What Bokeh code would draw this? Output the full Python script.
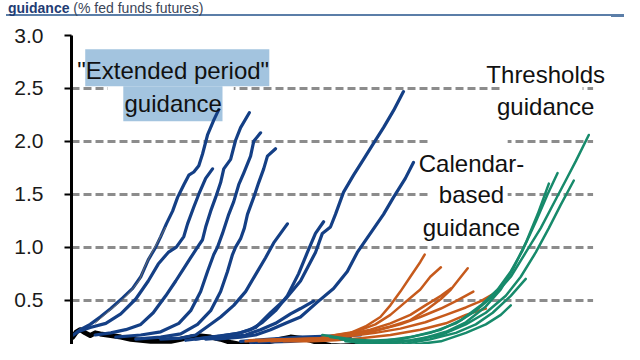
from bokeh.plotting import figure
from bokeh.layouts import column
from bokeh.models import Range1d, FixedTicker, Label, BoxAnnotation, PrintfTickFormatter, Div
from bokeh.embed import file_html
from bokeh.resources import INLINE

# x: months since Jan 2009, y: implied rate (%)
y_ticks = [0.5, 1.0, 1.5, 2.0, 2.5, 3.0]

black_x = [0.2, 0.8, 1.4, 2.2, 3.0, 3.8, 4.6, 6.3, 7.9, 9.5, 11.1, 12.7, 14.3, 15.9, 17.5, 19.1, 20.7, 22.3, 23.9, 25.5,
           27.1, 28.7, 30.3, 31.9, 33.5, 35.1, 36.7, 38.3, 39.9, 41.5, 43.1, 45.5, 47.9, 50.3, 52.7]
black_y = [0.15, 0.20, 0.22, 0.19, 0.165, 0.19, 0.18, 0.165, 0.15, 0.13, 0.12, 0.11, 0.11, 0.11, 0.13, 0.15, 0.16, 0.15, 0.13, 0.10,
           0.08, 0.08, 0.09, 0.11, 0.13, 0.15, 0.14, 0.12, 0.09, 0.07, 0.065, 0.07, 0.07, 0.065, 0.065]

ext1_x = [0.3, 1.4, 3.0, 4.6, 6.3, 8.2, 9.8, 11.1, 12.3, 13.5, 14.3, 15.2, 16.2, 17.0, 18.0, 18.8, 19.6, 20.4, 21.0, 21.8, 22.8, 23.6]
ext1_y = [0.17, 0.22, 0.27, 0.34, 0.42, 0.52, 0.61, 0.72, 0.88, 1.00, 1.10, 1.22, 1.34, 1.47, 1.59, 1.68, 1.71, 1.77, 1.88, 2.06, 2.20, 2.30]
ext2_x = [1.0, 3.0, 5.5, 7.9, 10.3, 12.3, 13.9, 15.5, 16.8, 18.0, 18.6, 19.6, 20.4, 21.5, 22.6]
ext2_y = [0.20, 0.24, 0.28, 0.37, 0.51, 0.68, 0.84, 0.95, 1.00, 1.10, 1.22, 1.38, 1.50, 1.65, 1.74]
ext3_x = [3.8, 6.3, 8.7, 11.1, 13.1, 15.1, 16.7, 18.0, 19.1, 20.2, 21.0, 21.5, 22.3, 23.1, 23.9, 24.4, 25.5, 26.3, 27.1, 28.5]
ext3_y = [0.17, 0.19, 0.22, 0.27, 0.38, 0.54, 0.68, 0.80, 0.90, 1.00, 1.07, 1.19, 1.34, 1.47, 1.61, 1.74, 1.83, 2.01, 2.13, 2.27]
ext4_x = [7.1, 11.1, 14.3, 17.2, 19.1, 20.7, 21.8, 22.8, 23.4, 24.2, 25.2, 26.0, 26.8, 27.6, 28.7, 29.2, 30.3]
ext4_y = [0.15, 0.17, 0.20, 0.28, 0.40, 0.58, 0.77, 0.93, 1.00, 1.13, 1.31, 1.43, 1.59, 1.70, 1.86, 2.00, 2.08]
ext5_x = [10.3, 14.3, 17.5, 20.2, 22.3, 23.9, 25.0, 25.8, 26.3, 27.1, 27.7, 28.2, 29.2, 30.0, 30.8, 31.4, 32.7]
ext5_y = [0.13, 0.15, 0.18, 0.27, 0.40, 0.58, 0.77, 0.93, 1.00, 1.08, 1.18, 1.31, 1.47, 1.61, 1.74, 1.86, 1.93]
ext6_x = [14.3, 17.5, 19.9, 21.8, 23.9, 26.0, 27.9, 29.5, 31.1, 32.4, 33.5, 34.6]
ext6_y = [0.13, 0.14, 0.17, 0.25, 0.34, 0.45, 0.58, 0.74, 0.90, 1.04, 1.13, 1.22]
ext7_x = [18.3, 22.3, 26.3, 28.7, 30.6, 32.7, 34.6, 36.4, 37.8, 39.1, 40.4]
ext7_y = [0.12, 0.15, 0.18, 0.22, 0.29, 0.40, 0.54, 0.75, 0.95, 1.13, 1.24]
ext8_x = [21.5, 25.5, 27.9, 30.3, 32.7, 35.1, 36.7, 38.8]
ext8_y = [0.13, 0.15, 0.17, 0.22, 0.28, 0.37, 0.42, 0.49]
ext9_x = [19.9, 23.9, 27.1, 29.5, 31.9, 34.3, 36.7, 39.1, 40.2, 41.5, 42.3, 43.6, 45.2, 46.8, 48.4, 50.0, 51.6, 53.2]
ext9_y = [0.13, 0.16, 0.19, 0.24, 0.38, 0.51, 0.68, 0.95, 1.13, 1.19, 1.31, 1.52, 1.68, 1.83, 1.98, 2.13, 2.29, 2.47]
ext10_x = [23.1, 27.1, 29.5, 31.9, 34.3, 36.7, 39.4, 42.0, 44.2, 45.8, 47.9, 50.0, 51.6, 53.5, 54.8]
ext10_y = [0.13, 0.15, 0.17, 0.22, 0.28, 0.34, 0.48, 0.61, 0.77, 0.95, 1.13, 1.31, 1.47, 1.65, 1.80]
ext11_x = [27.1, 31.9, 36.7, 41.5, 46.3]
ext11_y = [0.11, 0.13, 0.15, 0.16, 0.17]
ext12_x = [28.7, 35.1, 39.9, 44.7]
ext12_y = [0.10, 0.11, 0.13, 0.14]
thin_x = [3.8, 5.5, 7.1, 8.8, 10.0, 10.9, 11.7, 12.7, 14.0, 15.1]
thin_y = [0.28, 0.37, 0.45, 0.54, 0.62, 0.69, 0.81, 0.93, 1.07, 1.19]

cal1_x = [27.9, 33.5, 39.1, 41.5, 44.7, 47.1, 49.5, 51.1, 52.7, 54.3, 55.9, 56.6]
cal1_y = [0.11, 0.13, 0.13, 0.16, 0.19, 0.25, 0.34, 0.45, 0.58, 0.72, 0.86, 0.93]
cal2_x = [28.5, 34.0, 39.9, 42.3, 45.5, 48.7, 51.1, 53.5, 55.9, 57.5, 59.2]
cal2_y = [0.12, 0.13, 0.14, 0.17, 0.20, 0.27, 0.36, 0.48, 0.60, 0.72, 0.81]
cal3_x = [30.0, 36.0, 40.7, 43.9, 47.9, 51.1, 54.3, 56.7, 59.2, 60.8, 62.0, 63.5]
cal3_y = [0.11, 0.13, 0.14, 0.17, 0.20, 0.25, 0.31, 0.40, 0.51, 0.60, 0.69, 0.80]
cal4_x = [31.0, 36.5, 40.7, 43.9, 47.9, 51.1, 54.3, 56.7, 59.2, 60.8]
cal4_y = [0.12, 0.13, 0.13, 0.17, 0.22, 0.28, 0.36, 0.45, 0.54, 0.61]
cal5_x = [32.0, 37.0, 41.5, 44.7, 48.7, 52.7, 55.9, 59.2, 61.6, 64.4]
cal5_y = [0.11, 0.12, 0.14, 0.17, 0.21, 0.27, 0.34, 0.42, 0.49, 0.58]
cal6_x = [33.0, 38.0, 41.5, 44.7, 48.7, 52.7, 56.7, 60.0, 63.2, 65.6, 67.7]
cal6_y = [0.12, 0.12, 0.13, 0.16, 0.19, 0.23, 0.29, 0.36, 0.43, 0.49, 0.56]
cal7_x = [34.0, 38.5, 42.3, 46.3, 51.1, 55.9, 60.0, 63.2, 66.4]
cal7_y = [0.11, 0.11, 0.12, 0.14, 0.17, 0.22, 0.28, 0.36, 0.42]

thr1_x = [41.5, 46.3, 52.7, 57.5, 61.6, 64.8, 68.0, 70.4, 72.8, 75.2, 77.6, 79.2, 80.8, 82.9]
thr1_y = [0.15, 0.11, 0.13, 0.19, 0.28, 0.40, 0.56, 0.72, 0.95, 1.18, 1.45, 1.63, 1.81, 2.06]
thr2_x = [43.1, 47.9, 54.3, 59.2, 63.2, 66.4, 69.6, 72.0, 74.4, 76.5, 78.4, 80.5]
thr2_y = [0.13, 0.09, 0.12, 0.17, 0.27, 0.38, 0.54, 0.72, 0.95, 1.18, 1.40, 1.63]
thr3_x = [40.2, 44.7, 49.5, 54.3, 59.2, 62.4, 65.6, 68.3, 70.4, 72.3, 74.4, 76.3, 77.9]
thr3_y = [0.17, 0.13, 0.11, 0.15, 0.22, 0.31, 0.45, 0.60, 0.77, 0.97, 1.24, 1.50, 1.70]
thr4_x = [43.9, 50.3, 55.9, 60.0, 63.2, 66.4, 68.8, 70.9, 72.8, 74.7, 76.5]
thr4_y = [0.11, 0.08, 0.13, 0.20, 0.29, 0.44, 0.60, 0.81, 1.04, 1.31, 1.60]
thr5_x = [45.5, 51.9, 57.5, 61.6, 64.8, 67.5, 70.4, 72.8]
thr5_y = [0.10, 0.07, 0.13, 0.19, 0.27, 0.38, 0.54, 0.70]
thr6_x = [47.1, 53.5, 59.2, 63.2, 66.4, 68.8, 70.4]
thr6_y = [0.08, 0.07, 0.11, 0.19, 0.27, 0.36, 0.45]

title_bold = "guidance"
title_rest = "(% fed funds futures)"

BLUE = "#143f85"
ORANGE = "#c65a1c"
GREEN = "#178a6b"
FONT = "Liberation Sans"

# ---- header strip (title + rule) ----
hdr_html = (
    '<div style="position:relative;width:624px;height:18px;overflow:hidden;background:white;">'
    '<div style="position:absolute;left:6px;top:14px;width:618px;height:2px;background:#5b7ea8;"></div>'
    '<div style="position:absolute;left:611px;top:14px;width:13px;height:3px;background:#5b7ea8;"></div>'
    '<div style="position:absolute;left:8px;top:1px;font-family:\'Liberation Sans\',Arial,sans-serif;'
    'font-size:14px;line-height:14px;white-space:nowrap;">'
    f'<b style="color:#1f3c74">{title_bold}</b> <span style="color:#3a4558">{title_rest}</span>'
    '</div></div>'
)
hdr = Div(text=hdr_html, width=624, height=18, margin=(0, 0, 0, 0))

# ---- main chart ----
x_end = 86.7   # frame reaches a little past the last gridline so the right-hand note fits
grid_end = 83.6
p = figure(width=624, height=326, output_backend="svg", toolbar_location=None,
           x_range=Range1d(0, x_end), y_range=Range1d(0.08, 3.0),
           x_axis_location=None,
           min_border_left=71, min_border_right=12, min_border_top=17, min_border_bottom=0)
p.outline_line_color = None
p.background_fill_color = "white"
p.xgrid.visible = False
p.ygrid.ticker = FixedTicker(ticks=y_ticks)
p.ygrid.grid_line_color = "#8c8c8c"
p.ygrid.grid_line_width = 3
p.ygrid.grid_line_dash = "8 4"
try:
    p.ygrid.cross_bounds = (0, grid_end)
except Exception:
    pass

ax = p.yaxis[0]
ax.ticker = FixedTicker(ticks=y_ticks)
ax.formatter = PrintfTickFormatter(format="%.1f")
ax.axis_line_color = "black"
ax.axis_line_width = 3
ax.major_tick_line_color = "black"
ax.major_tick_line_width = 2
ax.major_tick_out = 7
ax.major_tick_in = 0
ax.minor_tick_line_color = None
ax.major_label_standoff = 21
ax.major_label_text_font = FONT
ax.major_label_text_font_size = "21px"
ax.major_label_text_color = "#1a1a1a"

# background boxes behind the annotation texts
def box(l, r, b, t, color):
    p.add_layout(BoxAnnotation(left=l, right=r, bottom=b, top=t, fill_color=color, fill_alpha=1,
                               line_color=None, level="underlay"))

box(grid_end, x_end, 0.08, 3.0, "white")
box(5.8, 26.0, 2.47, 2.53, "white")
box(2.2, 31.7, 2.52, 2.87, "#a3c4df")
box(8.3, 24.2, 2.19, 2.52, "#a3c4df")
box(69.1, 81.9, 2.2, 2.8, "white")
box(57.2, 69.9, 1.04, 2.04, "white")

def note(x, y, text):
    p.add_layout(Label(x=x, y=y, text=text, text_align="center", text_baseline="alphabetic",
                       text_font=FONT, text_font_size="24px", text_color="#111111"))

note(16.3, 2.665, '"Extended period"')
note(16.3, 2.355, "guidance")
note(76.0, 2.635, "Thresholds")
note(76.0, 2.325, "guidance")
note(64.1, 1.795, "Calendar-")
note(64.1, 1.495, "based")
note(64.1, 1.185, "guidance")

p.line(black_x, black_y, color="black", line_width=5, line_join="round", line_cap="round")
for xs, ys in [(ext1_x, ext1_y), (ext2_x, ext2_y), (ext3_x, ext3_y), (ext4_x, ext4_y), (ext5_x, ext5_y),
               (ext6_x, ext6_y), (ext7_x, ext7_y), (ext8_x, ext8_y), (ext9_x, ext9_y), (ext10_x, ext10_y),
               (ext11_x, ext11_y), (ext12_x, ext12_y)]:
    p.line(xs, ys, color=BLUE, line_width=3.2, line_join="round", line_cap="round")
p.line(thin_x, thin_y, color="#6e6e6e", line_width=1)
for xs, ys in [(cal1_x, cal1_y), (cal2_x, cal2_y), (cal3_x, cal3_y), (cal4_x, cal4_y), (cal5_x, cal5_y),
               (cal6_x, cal6_y), (cal7_x, cal7_y)]:
    p.line(xs, ys, color=ORANGE, line_width=2.5, line_join="round", line_cap="round")
for xs, ys in [(thr1_x, thr1_y), (thr2_x, thr2_y), (thr3_x, thr3_y), (thr4_x, thr4_y), (thr5_x, thr5_y),
               (thr6_x, thr6_y)]:
    p.line(xs, ys, color=GREEN, line_width=2.5, line_join="round", line_cap="round")

layout = column(hdr, p, spacing=0)
open("out.html", "w").write(file_html(layout, INLINE))
